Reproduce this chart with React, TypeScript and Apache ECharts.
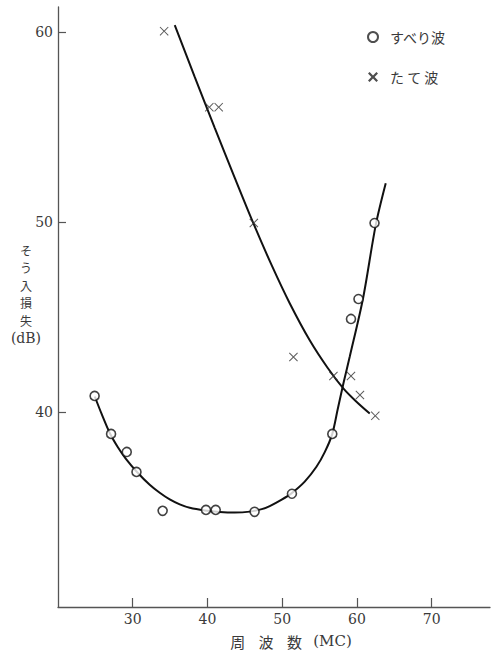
import React, { useEffect, useRef } from "react";
import * as echarts from "echarts";

// Measured points (frequency MC, insertion loss dB)
const slipWaveX = [24.9, 27.1, 29.2, 30.5, 34.0, 39.8, 41.1, 46.3, 51.3, 56.7, 59.2, 60.2, 62.35];
const slipWaveY = [40.85, 38.85, 37.9, 36.85, 34.8, 34.85, 34.85, 34.75, 35.7, 38.85, 44.9, 45.95, 49.95];

const longWaveX = [34.2, 40.25, 41.5, 46.2, 51.5, 56.85, 59.2, 60.4, 62.45];
const longWaveY = [60.05, 56.05, 56.05, 49.95, 42.9, 41.9, 41.9, 40.9, 39.8];

// Hand-drawn fitted curves
const slipCurveX = [24.92, 25.85, 26.96, 27.99, 29.06, 30.54, 32.27, 33.61, 34.95, 36.29, 37.63, 39.63, 41.64, 43.65, 45.66, 47.26, 48.33, 49.93, 51.23, 53.01, 54.58, 55.69, 56.69, 57.43, 58.23, 59.03, 60.81, 62.51, 63.85];
const slipCurveY = [40.82, 39.89, 38.87, 38.16, 37.55, 36.86, 36.17, 35.75, 35.4, 35.14, 34.96, 34.82, 34.74, 34.71, 34.76, 34.89, 35.05, 35.39, 35.72, 36.34, 37.12, 37.89, 38.84, 40.16, 41.58, 42.91, 45.98, 49.84, 52.04];

const longCurveX = [35.62, 38.29, 40.97, 43.65, 46.19, 48.6, 51.0, 53.68, 56.09, 58.23, 59.97, 61.71];
const longCurveY = [60.37, 57.64, 54.96, 52.33, 49.89, 47.72, 45.73, 43.78, 42.32, 41.22, 40.53, 39.92];

const xTicks = [30, 40, 50, 60, 70];
const yTicks = [40, 50, 60];

const seriesNames = ["すべり波", "たて波"];
const legendLabels: Record<string, string> = { "すべり波": "すべり波", "たて波": "た て 波" };

const xNameParts = ["周", "波", "数", "(MC)"];
const yNameChars = ["そ", "う", "入", "損", "失"];
const yUnit = "(dB)";

const crossPath =
  "path://M0,0.8L0.8,0L5,4.2L9.2,0L10,0.8L5.8,5L10,9.2L9.2,10L5,5.8L0.8,10L0,9.2L4.2,5Z";
const boldCrossPath =
  "path://M0,1.6L1.6,0L5,3.4L8.4,0L10,1.6L6.6,5L10,8.4L8.4,10L5,6.6L1.6,10L0,8.4L3.4,5Z";

const zip = (xs: number[], ys: number[]) => xs.map((x, i) => [x, ys[i]]);

export default function App() {
  const ref = useRef<HTMLDivElement>(null);
  useEffect(() => {
    if (!ref.current) return;
    const chart = echarts.init(ref.current, undefined, { renderer: "svg" });
    const serif = "'DejaVu Serif', 'Liberation Serif', serif";
    const jp = "'Noto Sans CJK JP', sans-serif";
    const ink = "#3a3a3a";
    chart.setOption({
      animation: false,
      backgroundColor: "#ffffff",
      grid: { left: 58, top: 7, right: 1, bottom: 46, containLabel: false },
      xAxis: {
        type: "value",
        min: 20,
        max: 77.8,
        splitLine: { show: false },
        axisLine: { lineStyle: { color: "#555", width: 1.3 } },
        axisTick: { inside: true, length: 9, customValues: xTicks, lineStyle: { color: "#555", width: 1.2 } },
        axisLabel: {
          customValues: xTicks,
          color: ink,
          fontFamily: serif,
          fontSize: 14,
          margin: 5,
        },
      },
      yAxis: {
        type: "value",
        min: 29.74,
        max: 61.32,
        splitLine: { show: false },
        axisLine: { lineStyle: { color: "#555", width: 1.3 } },
        axisTick: { inside: true, length: 8, customValues: yTicks, lineStyle: { color: "#555", width: 1.2 } },
        axisLabel: {
          customValues: yTicks,
          color: ink,
          fontFamily: serif,
          fontSize: 14,
          margin: 5,
        },
      },
      legend: {
        orient: "vertical",
        left: 362,
        top: 25,
        itemWidth: 10,
        itemHeight: 10,
        itemGap: 26,
        textStyle: { color: ink, fontFamily: jp, fontSize: 14, padding: [0, 0, 0, 7] },
        formatter: (n: string) => legendLabels[n] ?? n,
        data: [
          { name: seriesNames[0], icon: "circle", itemStyle: { color: "#fff", borderColor: "#222", borderWidth: 2 } },
          { name: seriesNames[1], icon: boldCrossPath, itemStyle: { color: "#222", borderWidth: 0 } },
        ],
      },
      graphic: [
        ...yNameChars.map((c, i) => ({
          type: "text",
          x: 26,
          y: 250 + i * 17.5,
          style: {
            text: c,
            fill: ink,
            fontFamily: jp,
            fontSize: 12,
            lineHeight: 13,
            align: "center",
            verticalAlign: "middle",
          },
        })),
        {
          type: "text",
          x: 26,
          y: 338,
          style: { text: yUnit, fill: ink, font: `14px ${serif}`, align: "center", verticalAlign: "middle" },
        },
        {
          type: "text",
          x: 290,
          y: 641,
          style: {
            text: `{c|${xNameParts[0]}} {c|${xNameParts[1]}} {c|${xNameParts[2]}} {m|${xNameParts[3]}}`,
            align: "center",
            verticalAlign: "middle",
            rich: {
              c: { fontFamily: jp, fontSize: 15, fill: ink, padding: [0, 5] },
              m: { fontFamily: serif, fontSize: 15, fill: ink, padding: [0, 3] },
            },
          },
        },
      ],
      series: [
        {
          name: "すべり波 曲線",
          type: "line",
          data: zip(slipCurveX, slipCurveY),
          smooth: 0.3,
          showSymbol: false,
          silent: true,
          lineStyle: { color: "#111", width: 2 },
          z: 2,
        },
        {
          name: "たて波 曲線",
          type: "line",
          data: zip(longCurveX, longCurveY),
          smooth: 0.3,
          showSymbol: false,
          silent: true,
          lineStyle: { color: "#111", width: 2 },
          z: 2,
        },
        {
          name: seriesNames[0],
          type: "scatter",
          data: zip(slipWaveX, slipWaveY),
          symbol: "circle",
          symbolSize: 9,
          itemStyle: { color: "#fff", borderColor: "#111", borderWidth: 1.6 },
          z: 4,
        },
        {
          name: seriesNames[1],
          type: "scatter",
          data: zip(longWaveX, longWaveY),
          symbol: crossPath,
          symbolSize: 9,
          itemStyle: { color: "#333", borderWidth: 0 },
          z: 4,
        },
      ],
    });
    return () => chart.dispose();
  }, []);
  return <div ref={ref} style={{ position: "fixed", left: 0, top: 0, width: 491, height: 653 }} />;
}
